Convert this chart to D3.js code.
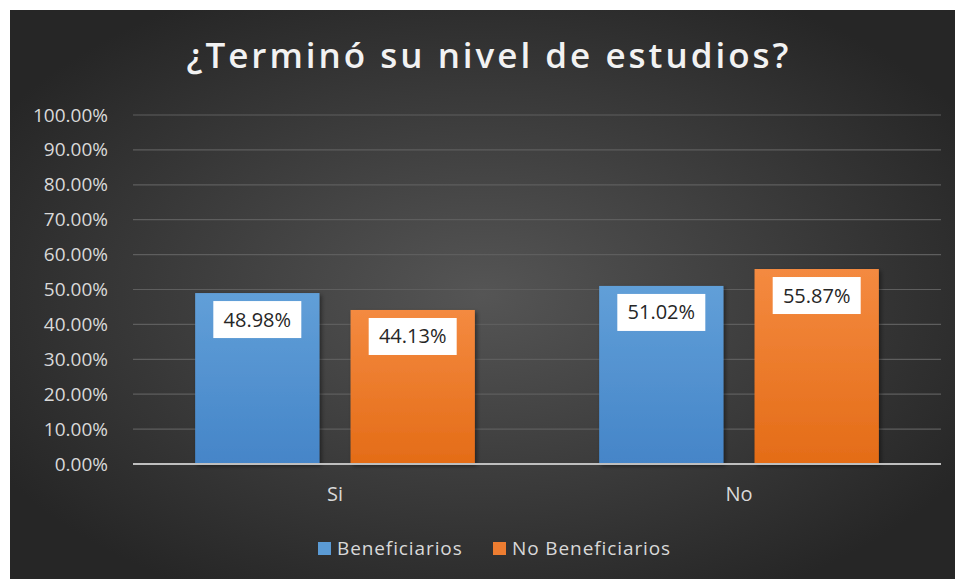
<!DOCTYPE html>
<html>
<head>
<meta charset="utf-8">
<script src="https://cdn.jsdelivr.net/npm/d3@7"></script>
<style>
  body { margin: 0; background: #fff; }
  svg { display: block; font-family: "Open Sans", sans-serif; }
</style>
</head>
<body>
<div id="chart"></div>
<script>
const categories = ['Si', 'No'];
const seriesNames = ['Beneficiarios', 'No Beneficiarios'];
const beneficiarios = [48.98, 51.02];
const noBeneficiarios = [44.13, 55.87];
const yTicks = [0, 10, 20, 30, 40, 50, 60, 70, 80, 90, 100];

const width = 957, height = 579;
const margin = { top: 115, right: 16, bottom: 115, left: 133 };

const svg = d3.select('#chart').append('svg')
    .attr('width', width)
    .attr('height', height);

const defs = svg.append('defs');

// background gradient, lighter in the middle
const bg = defs.append('radialGradient').attr('id', 'bg')
    .attr('cx', '50%').attr('cy', '50%').attr('r', '60%');
bg.append('stop').attr('offset', '0%').attr('stop-color', '#555555');
bg.append('stop').attr('offset', '100%').attr('stop-color', '#262626');

const colors = [
    { id: 'gBlue', top: '#619fd8', bottom: '#4585c8', key: '#5b9bd5' },
    { id: 'gOrange', top: '#f48a40', bottom: '#e46c17', key: '#ed7d31' }
];
colors.forEach(c => {
    const g = defs.append('linearGradient').attr('id', c.id)
        .attr('x1', 0).attr('y1', 0).attr('x2', 0).attr('y2', 1);
    g.append('stop').attr('offset', '0%').attr('stop-color', c.top);
    g.append('stop').attr('offset', '100%').attr('stop-color', c.bottom);
});

const shadow = defs.append('filter').attr('id', 'shadow')
    .attr('x', '-20%').attr('y', '-20%').attr('width', '140%').attr('height', '140%');
shadow.append('feDropShadow').attr('dx', 2).attr('dy', 2).attr('stdDeviation', 2)
    .attr('flood-color', '#000').attr('flood-opacity', 0.45);

svg.append('rect')
    .attr('x', 10).attr('y', 10)
    .attr('width', width - 12).attr('height', height - 10)
    .attr('fill', 'url(#bg)');

svg.append('text')
    .attr('x', 489).attr('y', 68)
    .attr('text-anchor', 'middle')
    .attr('fill', '#f2f2f2')
    .style('font-size', '35px')
    .style('font-weight', 600)
    .style('letter-spacing', '3px')
    .text('¿Terminó su nivel de estudios?');

const x0 = d3.scaleBand()
    .domain(categories)
    .range([margin.left, width - margin.right]);

const x1 = d3.scaleBand()
    .domain(seriesNames)
    .range([0, x0.bandwidth()])
    .paddingInner(0.2)
    .paddingOuter(0.4);

const y = d3.scaleLinear()
    .domain([0, 100])
    .range([464, 115]);

// gridlines
svg.append('g')
    .selectAll('line')
    .data(yTicks.filter(d => d > 0))
    .join('line')
    .attr('x1', margin.left).attr('x2', width - margin.right)
    .attr('y1', d => y(d)).attr('y2', d => y(d))
    .attr('stroke', '#5e5e5e')
    .attr('stroke-width', 1.2);

// y axis labels
const yAxis = svg.append('g')
    .attr('transform', `translate(${margin.left - 22},0)`)
    .call(d3.axisLeft(y).tickValues(yTicks).tickSize(0).tickFormat(d => d.toFixed(2) + '%'));
yAxis.select('.domain').remove();
yAxis.selectAll('text')
    .attr('fill', '#d9d9d9')
    .style('font-size', '19px')
    .style('font-family', '"Open Sans", sans-serif');

const rows = categories.map((c, i) => ({
    cat: c,
    values: [beneficiarios[i], noBeneficiarios[i]]
}));

const groups = svg.append('g')
    .selectAll('g')
    .data(rows)
    .join('g')
    .attr('transform', d => `translate(${x0(d.cat)},0)`);

const bars = groups.selectAll('g.bar')
    .data(d => d.values.map((v, j) => ({ series: seriesNames[j], value: v, j })))
    .join('g')
    .attr('class', 'bar');

bars.append('rect')
    .attr('x', d => x1(d.series))
    .attr('y', d => y(d.value))
    .attr('width', x1.bandwidth())
    .attr('height', d => y(0) - y(d.value))
    .attr('fill', d => `url(#${colors[d.j].id})`)
    .attr('filter', 'url(#shadow)');

// data labels in white boxes
bars.each(function(d) {
    const g = d3.select(this);
    const cx = x1(d.series) + x1.bandwidth() / 2;
    const top = y(d.value) + 8;
    const boxW = 88, boxH = 37;
    g.append('rect')
        .attr('x', cx - boxW / 2)
        .attr('y', top)
        .attr('width', boxW).attr('height', boxH)
        .attr('fill', '#ffffff');
    g.append('text')
        .attr('x', cx)
        .attr('y', top + boxH / 2 + 7)
        .attr('text-anchor', 'middle')
        .attr('fill', '#262626')
        .style('font-size', '20px')
        .text(d.value.toFixed(2) + '%');
});

// baseline
svg.append('line')
    .attr('x1', margin.left).attr('x2', width - margin.right)
    .attr('y1', y(0)).attr('y2', y(0))
    .attr('stroke', '#bfbfbf')
    .attr('stroke-width', 2);

// category labels
svg.append('g')
    .selectAll('text')
    .data(categories)
    .join('text')
    .attr('x', d => x0(d) + x0.bandwidth() / 2)
    .attr('y', 501)
    .attr('text-anchor', 'middle')
    .attr('fill', '#d9d9d9')
    .style('font-size', '20px')
    .text(d => d);

// legend
const legendItems = [
    { name: seriesNames[0], color: colors[0].key, x: 318 },
    { name: seriesNames[1], color: colors[1].key, x: 493 }
];
const legend = svg.append('g')
    .selectAll('g')
    .data(legendItems)
    .join('g')
    .attr('transform', d => `translate(${d.x},542)`);
legend.append('rect')
    .attr('width', 13).attr('height', 13)
    .attr('fill', d => d.color);
legend.append('text')
    .attr('x', 19).attr('y', 13)
    .attr('fill', '#d9d9d9')
    .style('font-size', '19px')
    .style('letter-spacing', '0.9px')
    .text(d => d.name);
</script>
</body>
</html>
